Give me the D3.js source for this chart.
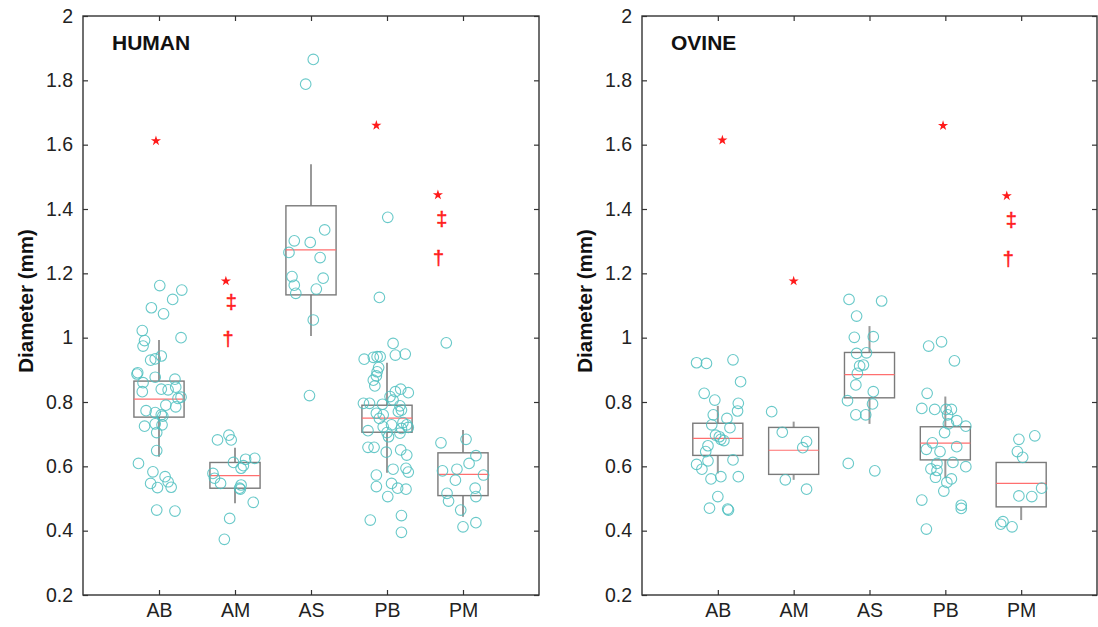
<!DOCTYPE html>
<html>
<head>
<meta charset="utf-8">
<script src="https://cdn.jsdelivr.net/npm/d3@7"></script>
<style>
  body { margin: 0; background: #fff; }
  text { font-family: "Liberation Sans", Arial, sans-serif; }
</style>
</head>
<body>
<script>
// categories and ticks
var categories = ["AB", "AM", "AS", "PB", "PM"];
var yTicks = [0.2, 0.4, 0.6, 0.8, 1, 1.2, 1.4, 1.6, 1.8, 2];

// points: [jitter offset (category units), diameter]
var humanAB = [[0.01,1.162],[0.30,1.148],[0.18,1.119],[-0.10,1.093],[0.06,1.074],[-0.22,1.022],[-0.19,0.991],[-0.21,0.974],[0.29,1.0],[-0.11,0.93],[0.03,0.943],[-0.05,0.934],[-0.28,0.891],[-0.29,0.887],[-0.05,0.877],[0.21,0.871],[-0.21,0.86],[0.03,0.84],[0.12,0.838],[0.22,0.846],[-0.22,0.832],[0.25,0.811],[0.29,0.815],[0.09,0.79],[0.22,0.785],[-0.17,0.773],[-0.05,0.767],[0.03,0.76],[0.05,0.756],[-0.19,0.725],[-0.05,0.732],[0.04,0.729],[-0.03,0.705],[-0.03,0.649],[-0.27,0.609],[-0.08,0.583],[-0.11,0.547],[0.08,0.568],[0.12,0.552],[-0.02,0.534],[0.16,0.535],[-0.03,0.464],[0.21,0.461]];
var humanAM = [[-0.23,0.682],[-0.08,0.697],[-0.05,0.682],[-0.02,0.612],[0.14,0.622],[0.26,0.625],[0.11,0.602],[0.08,0.594],[-0.29,0.578],[-0.27,0.563],[-0.19,0.547],[0.08,0.542],[0.06,0.532],[0.07,0.529],[0.24,0.488],[-0.07,0.438],[-0.14,0.373]];
var humanAS = [[0.03,1.865],[-0.07,1.788],[0.18,1.335],[-0.22,1.301],[-0.01,1.296],[-0.29,1.265],[0.12,1.249],[-0.25,1.19],[0.16,1.185],[-0.22,1.163],[0.07,1.151],[-0.20,1.138],[0.03,1.055],[-0.02,0.82]];
var humanPB = [[0.01,1.374],[-0.10,1.125],[0.08,0.982],[-0.30,0.933],[-0.18,0.939],[-0.13,0.941],[-0.09,0.941],[0.11,0.946],[0.24,0.949],[-0.11,0.907],[-0.13,0.894],[-0.14,0.881],[-0.18,0.868],[-0.16,0.85],[0.18,0.84],[0.11,0.832],[0.28,0.829],[0.04,0.817],[0.08,0.806],[-0.31,0.796],[-0.23,0.796],[-0.06,0.793],[0.17,0.788],[0.19,0.775],[0.15,0.77],[-0.14,0.765],[-0.05,0.76],[-0.10,0.749],[0.06,0.729],[0.21,0.736],[0.26,0.729],[0.19,0.718],[0.28,0.721],[-0.05,0.723],[0.00,0.705],[-0.25,0.711],[0.17,0.703],[0.02,0.692],[-0.25,0.659],[-0.17,0.659],[-0.01,0.644],[0.18,0.651],[0.26,0.635],[0.08,0.591],[0.25,0.594],[0.28,0.582],[-0.14,0.573],[0.06,0.547],[0.14,0.532],[0.25,0.529],[-0.14,0.537],[0.01,0.506],[-0.22,0.433],[0.19,0.447],[0.19,0.395]];
var humanPM = [[-0.22,0.984],[-0.29,0.673],[0.04,0.684],[0.17,0.633],[0.08,0.609],[-0.27,0.586],[-0.08,0.591],[0.27,0.573],[-0.10,0.557],[0.16,0.532],[0.17,0.506],[-0.21,0.516],[-0.19,0.492],[-0.03,0.464],[0.17,0.425],[0.00,0.412]];

var ovineAB = [[-0.28,0.922],[-0.15,0.92],[0.20,0.931],[0.30,0.863],[-0.18,0.827],[-0.04,0.806],[0.27,0.796],[-0.06,0.76],[0.26,0.772],[0.12,0.749],[-0.08,0.729],[0.16,0.72],[-0.03,0.697],[0.02,0.692],[0.04,0.684],[0.08,0.68],[-0.13,0.664],[-0.16,0.646],[0.20,0.62],[-0.28,0.606],[-0.13,0.617],[-0.21,0.591],[-0.09,0.561],[0.04,0.568],[0.27,0.568],[0.00,0.506],[-0.11,0.47],[0.13,0.467],[0.14,0.464]];
var ovineAM = [[-0.29,0.77],[-0.15,0.706],[0.17,0.677],[0.12,0.658],[-0.11,0.558],[0.17,0.529]];
var ovineAS = [[-0.27,1.119],[0.16,1.114],[-0.17,1.067],[-0.20,1.001],[0.05,1.003],[-0.04,0.953],[-0.17,0.951],[-0.08,0.915],[-0.13,0.912],[-0.16,0.889],[-0.18,0.853],[0.05,0.832],[-0.29,0.804],[0.04,0.794],[-0.18,0.76],[-0.05,0.76],[-0.28,0.609],[0.07,0.586]];
var ovinePB = [[-0.22,0.974],[-0.05,0.987],[0.12,0.928],[-0.24,0.827],[-0.31,0.78],[-0.14,0.777],[0.01,0.777],[0.08,0.777],[0.03,0.76],[0.15,0.742],[0.04,0.732],[0.27,0.725],[-0.01,0.705],[-0.17,0.673],[0.15,0.661],[-0.25,0.653],[-0.07,0.646],[-0.11,0.609],[0.10,0.612],[0.27,0.599],[-0.19,0.592],[-0.11,0.587],[-0.13,0.566],[0.08,0.561],[0.02,0.55],[-0.02,0.523],[-0.31,0.495],[0.21,0.479],[0.21,0.469],[-0.25,0.405]];
var ovinePM = [[-0.03,0.684],[0.18,0.695],[-0.05,0.646],[0.02,0.628],[0.27,0.532],[-0.03,0.508],[0.14,0.506],[-0.24,0.428],[-0.27,0.42],[-0.12,0.412]];

// box stats per category: [whisker low, q1, median, q3, whisker high]
var humanBoxes = [[0.63,0.753,0.809,0.865,0.993],[0.485,0.532,0.571,0.612,0.658],[1.005,1.133,1.273,1.41,1.539],[0.58,0.706,0.75,0.79,0.922],[0.443,0.509,0.575,0.642,0.713]];
var ovineBoxes = [[0.578,0.634,0.687,0.734,0.788],[0.558,0.575,0.65,0.721,0.739],[0.732,0.813,0.885,0.954,1.036],[0.563,0.62,0.672,0.723,0.817],[0.433,0.474,0.547,0.612,0.612]];

// significance marks: [category, symbol, offset, value]
var humanMarks = [["AB","*",-0.04,1.612],["AM","*",-0.12,1.176],["AM","\u2021",-0.05,1.108],["AM","\u2020",-0.09,0.993],["PB","*",-0.14,1.66],["PM","*",-0.33,1.444],["PM","\u2021",-0.28,1.366],["PM","\u2020",-0.32,1.245]];
var ovineMarks = [["AB","*",0.06,1.614],["AM","*",0.0,1.176],["PB","*",-0.03,1.659],["PM","*",-0.19,1.441],["PM","\u2021",-0.13,1.363],["PM","\u2020",-0.17,1.241]];

var svgWidth = 1098, svgHeight = 627;
var svg = d3.select("body").append("svg")
  .attr("width", svgWidth)
  .attr("height", svgHeight);

function drawPanel(opts) {
  var x = d3.scaleLinear().domain([0, 6]).range([opts.left, opts.right]);
  var y = d3.scaleLinear().domain([0.2, 2]).range([595, 16]);
  var g = svg.append("g");
  var axisColor = "#333";

  // axes with inward ticks
  var yAxis = g.append("g")
    .attr("transform", `translate(${opts.left},0)`)
    .call(d3.axisLeft(y).tickValues(yTicks).tickFormat(d3.format("~g")).tickSize(-5).tickSizeOuter(0).tickPadding(10));
  var yAxisR = g.append("g")
    .attr("transform", `translate(${opts.right},0)`)
    .call(d3.axisRight(y).tickValues(yTicks).tickFormat("").tickSize(-5).tickSizeOuter(0));
  var xAxis = g.append("g")
    .attr("transform", "translate(0,595)")
    .call(d3.axisBottom(x).tickValues([1,2,3,4,5]).tickFormat(d => categories[d - 1]).tickSize(-5).tickSizeOuter(0).tickPadding(8));
  var xAxisT = g.append("g")
    .attr("transform", "translate(0,16)")
    .call(d3.axisTop(x).tickValues([1,2,3,4,5]).tickFormat("").tickSize(-5).tickSizeOuter(0));
  [yAxis, yAxisR, xAxis, xAxisT].forEach(function(a) {
    a.select(".domain").remove();
    a.selectAll(".tick line").attr("stroke", axisColor).attr("stroke-width", 1.2);
    a.selectAll("text").attr("font-size", 19.5).attr("fill", "#222")
      .attr("font-family", "'Liberation Sans', Arial, sans-serif");
  });

  // frame
  g.append("rect")
    .attr("x", opts.left).attr("y", y(2))
    .attr("width", opts.right - opts.left)
    .attr("height", y(0.2) - y(2))
    .attr("fill", "none").attr("stroke", axisColor).attr("stroke-width", 1.4);

  // y title
  g.append("text")
    .attr("transform", `translate(${opts.left - 50},301) rotate(-90)`)
    .attr("text-anchor", "middle")
    .attr("font-size", 20.5).attr("font-weight", "bold").attr("fill", "#111")
    .text("Diameter (mm)");

  // panel title
  g.append("text")
    .attr("x", opts.left + 29).attr("y", 50)
    .attr("font-size", 21).attr("font-weight", "bold").attr("fill", "#111")
    .text(opts.title);

  // boxes
  var hw = 0.33;
  var boxes = g.selectAll(".box").data(opts.boxes).enter().append("g").attr("class", "box");
  boxes.append("line")
    .attr("x1", (d, i) => x(i + 1)).attr("x2", (d, i) => x(i + 1))
    .attr("y1", d => y(d[3])).attr("y2", d => y(d[4]))
    .attr("stroke", "#999").attr("stroke-width", 2);
  boxes.append("line")
    .attr("x1", (d, i) => x(i + 1)).attr("x2", (d, i) => x(i + 1))
    .attr("y1", d => y(d[0])).attr("y2", d => y(d[1]))
    .attr("stroke", "#999").attr("stroke-width", 2);
  boxes.append("rect")
    .attr("x", (d, i) => x(i + 1 - hw))
    .attr("y", d => y(d[3]))
    .attr("width", (d, i) => x(i + 1 + hw) - x(i + 1 - hw))
    .attr("height", d => y(d[1]) - y(d[3]))
    .attr("fill", "none").attr("stroke", "#7a7a7a").attr("stroke-width", 1.4);
  boxes.append("line")
    .attr("x1", (d, i) => x(i + 1 - hw)).attr("x2", (d, i) => x(i + 1 + hw))
    .attr("y1", d => y(d[2])).attr("y2", d => y(d[2]))
    .attr("stroke", "#ff6f6f").attr("stroke-width", 1.2);

  // points
  opts.points.forEach(function(pts, i) {
    g.append("g").selectAll("circle").data(pts).enter().append("circle")
      .attr("cx", d => x(i + 1 + d[0]))
      .attr("cy", d => y(d[1]))
      .attr("r", 5.3)
      .attr("fill", "none")
      .attr("stroke", "#4fc0c0")
      .attr("stroke-opacity", 0.85)
      .attr("stroke-width", 1.1);
  });

  // significance marks
  opts.marks.forEach(function(m) {
    var cx = x(categories.indexOf(m[0]) + 1 + m[2]);
    var cy = y(m[3]);
    if (m[1] === "*") {
      g.append("path")
        .attr("d", d3.symbol(d3.symbolStar).size(32)())
        .attr("transform", `translate(${cx},${cy})`)
        .attr("fill", "#ff1a1a");
    } else {
      g.append("text")
        .attr("x", cx).attr("y", cy)
        .attr("dy", "0.3em")
        .attr("text-anchor", "middle")
        .attr("font-size", 20)
        .attr("fill", "#ff1a1a")
        .attr("stroke", "#ff1a1a").attr("stroke-width", 0.5)
        .text(m[1]);
    }
  });
}

drawPanel({
  left: 83, right: 539, title: "HUMAN",
  points: [humanAB, humanAM, humanAS, humanPB, humanPM],
  boxes: humanBoxes, marks: humanMarks
});
drawPanel({
  left: 642, right: 1097, title: "OVINE",
  points: [ovineAB, ovineAM, ovineAS, ovinePB, ovinePM],
  boxes: ovineBoxes, marks: ovineMarks
});
</script>
</body>
</html>
